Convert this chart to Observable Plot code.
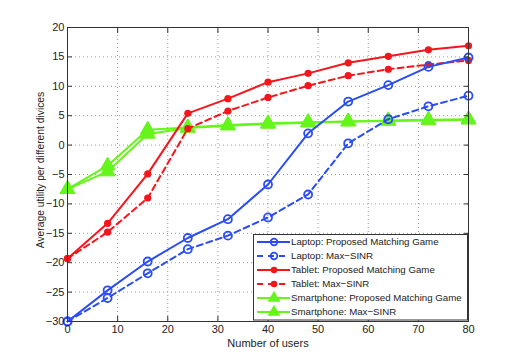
<!DOCTYPE html>
<html>
<head>
<meta charset="utf-8">
<script src="https://cdn.jsdelivr.net/npm/d3@7"></script>
<script src="https://cdn.jsdelivr.net/npm/@observablehq/plot@0.6"></script>
<style>
  html, body { margin: 0; padding: 0; background: #fff; }
  #wrap { position: relative; width: 518px; height: 361px; font-family: "Liberation Sans", Arial, sans-serif; }
  #legend { position: absolute; left: 253px; top: 234px; }
</style>
</head>
<body>
<div id="wrap"></div>
<script>
// ---- data ----
const users = [0, 8, 16, 24, 32, 40, 48, 56, 64, 72, 80];
const laptopPMG = [-30, -24.7, -19.8, -15.8, -12.6, -6.7, 2.0, 7.4, 10.2, 13.3, 14.9];
const laptopMaxSINR = [-30, -26.0, -21.8, -17.7, -15.4, -12.3, -8.4, 0.3, 4.4, 6.6, 8.4];
const tabletPMG = [-19.3, -13.3, -4.9, 5.4, 7.9, 10.7, 12.2, 14.0, 15.1, 16.2, 16.9];
const tabletMaxSINR = [-19.3, -14.8, -9.0, 2.8, 5.8, 8.1, 10.1, 11.8, 12.9, 13.7, 14.4];
const phonePMG = [-7.5, -3.5, 2.6, 3.0, 3.4, 3.7, 3.9, 4.0, 4.2, 4.3, 4.4];
const phoneMaxSINR = [-7.5, -4.5, 1.9, 2.9, 3.3, 3.6, 3.8, 4.0, 4.1, 4.2, 4.3];
const xTicks = [0, 10, 20, 30, 40, 50, 60, 70, 80];
const yTicks = [-30, -25, -20, -15, -10, -5, 0, 5, 10, 15, 20];
const seriesNames = [
  "Laptop: Proposed Matching Game",
  "Laptop: Max\u2212SINR",
  "Tablet: Proposed Matching Game",
  "Tablet: Max\u2212SINR",
  "Smartphone: Proposed Matching Game",
  "Smartphone: Max\u2212SINR"
];

// ---- styles ----
const BLUE = "#2a4cf5", RED = "#f5161b", GREEN = "#66f51a";
const series = [
  {name: seriesNames[0], values: laptopPMG, color: BLUE, dash: null, marker: "openCircle"},
  {name: seriesNames[1], values: laptopMaxSINR, color: BLUE, dash: "6,4", marker: "openCircle"},
  {name: seriesNames[2], values: tabletPMG, color: RED, dash: null, marker: "dot"},
  {name: seriesNames[3], values: tabletMaxSINR, color: RED, dash: "6,4", marker: "dot"},
  {name: seriesNames[4], values: phonePMG, color: GREEN, dash: null, marker: "triangle"},
  {name: seriesNames[5], values: phoneMaxSINR, color: GREEN, dash: null, marker: "triangle"}
];

const marks = [
  Plot.gridX(xTicks, {stroke: "#999", strokeOpacity: 1, strokeDasharray: "1,3", strokeWidth: 1}),
  Plot.gridY(yTicks, {stroke: "#999", strokeOpacity: 1, strokeDasharray: "1,3", strokeWidth: 1}),
];

for (const i of [5, 4, 3, 2, 1, 0]) {
  const s = series[i];
  const data = users.map((u, j) => ({x: u, y: s.values[j]}));
  marks.push(Plot.line(data, {x: "x", y: "y", stroke: s.color, strokeWidth: 2, strokeDasharray: s.dash}));
  if (s.marker === "openCircle") {
    marks.push(Plot.dot(data, {x: "x", y: "y", r: 4, stroke: s.color, strokeWidth: 1.8, fill: "white", fillOpacity: 0}));
  } else if (s.marker === "dot") {
    marks.push(Plot.dot(data, {x: "x", y: "y", r: 3.6, fill: s.color, stroke: "none"}));
  } else {
    marks.push(Plot.dot(data, {x: "x", y: "y", r: 5.5, symbol: "triangle", fill: s.color, stroke: s.color, strokeWidth: 1}));
  }
}

marks.push(
  Plot.axisX(xTicks, {tickSize: -5, tickPadding: 9, fontSize: 11, color: "#222", label: null, stroke: "#333"}),
  Plot.axisX(xTicks, {anchor: "top", tickSize: -5, tickFormat: () => "", label: null, stroke: "#333"}),
  Plot.axisY(yTicks, {tickSize: -5, tickPadding: 8, fontSize: 11, color: "#222", label: null, stroke: "#333",
    tickFormat: d => d < 0 ? "\u2212" + Math.abs(d) : String(d)}),
  Plot.axisY(yTicks, {anchor: "right", tickSize: -5, tickFormat: () => "", label: null, stroke: "#333"}),
  Plot.frame({stroke: "#333", strokeWidth: 1})
);

const chart = Plot.plot({
  width: 518,
  height: 361,
  marginLeft: 67,
  marginRight: 50,
  marginTop: 27,
  marginBottom: 40,
  style: {fontFamily: "Liberation Sans, Arial, sans-serif", fontSize: "11px", color: "#222", background: "white"},
  x: {domain: [0, 80]},
  y: {domain: [-30, 20]},
  marks
});

const wrap = document.getElementById("wrap");
wrap.appendChild(chart);

// axis titles as real text
const svg = d3.select(chart);
svg.append("text")
  .attr("x", 268).attr("y", 347)
  .attr("text-anchor", "middle")
  .attr("font-size", 11).attr("fill", "#222")
  .text("Number of users");
svg.append("text")
  .attr("transform", "translate(44,170) rotate(-90)")
  .attr("text-anchor", "middle")
  .attr("font-size", 10.3).attr("fill", "#222")
  .text("Average utility per different divices");

// legend overlay
const lw = 214, rowH = 14, lh = 86;
const leg = d3.select(wrap).append("svg")
  .attr("id", "legend")
  .attr("width", lw + 1).attr("height", lh + 1);
leg.append("rect").attr("x", 0.5).attr("y", 0.5).attr("width", lw).attr("height", lh - 0.5)
  .attr("fill", "white").attr("stroke", "#333").attr("stroke-width", 1);
series.forEach((s, i) => {
  const cy = 8 + i * rowH;
  const g = leg.append("g").attr("transform", `translate(0,${cy})`);
  g.append("line").attr("x1", 4).attr("x2", 37).attr("y1", 0).attr("y2", 0)
    .attr("stroke", s.color).attr("stroke-width", 2)
    .attr("stroke-dasharray", s.dash ? "6,5" : null);
  if (s.marker === "openCircle") {
    g.append("circle").attr("cx", 21).attr("cy", 0).attr("r", 3.3)
      .attr("fill", "none").attr("stroke", s.color).attr("stroke-width", 1.8);
  } else if (s.marker === "dot") {
    g.append("circle").attr("cx", 21).attr("cy", 0).attr("r", 3.3).attr("fill", s.color);
  } else {
    g.append("path").attr("d", d3.symbol(d3.symbolTriangle, 70)()).attr("transform", "translate(21,0)")
      .attr("fill", s.color);
  }
  g.append("text").attr("x", 38).attr("y", 0).attr("dy", "0.35em")
    .attr("font-size", 9.7).attr("fill", "#222")
    .attr("font-family", "Liberation Sans, Arial, sans-serif")
    .text(s.name);
});
</script>
</body>
</html>
